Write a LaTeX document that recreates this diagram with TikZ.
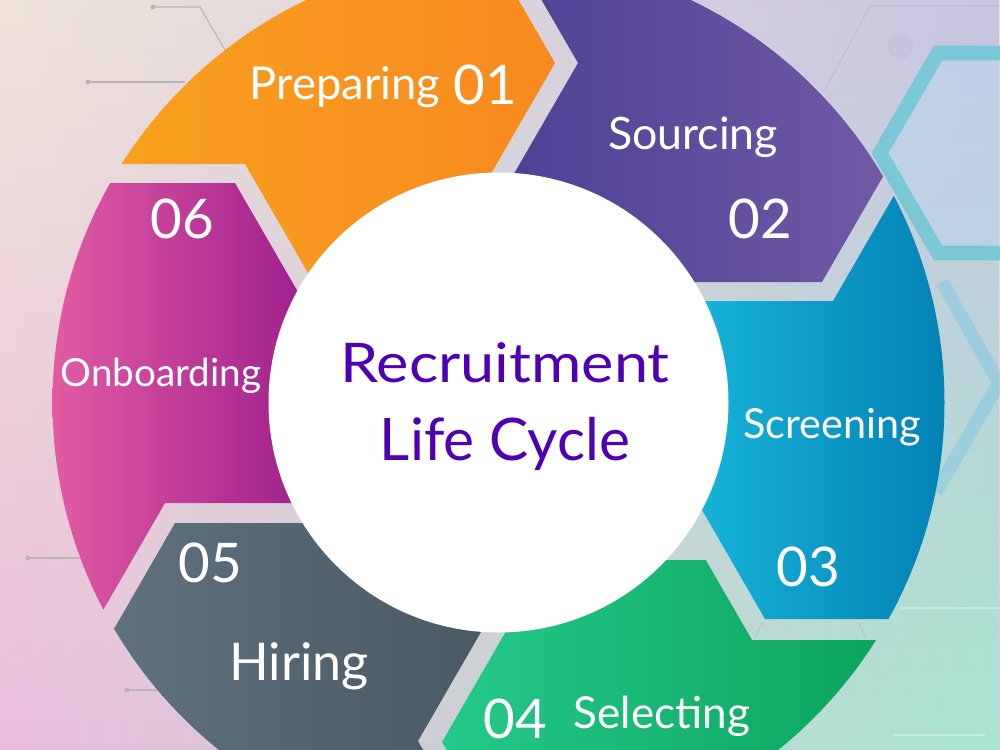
\documentclass[tikz,border=0pt]{standalone}
\usepackage{fontspec}
\setmainfont{Lato}
\newfontfamily\widefont[FakeStretch=1.12]{Lato}
\usetikzlibrary{fadings}

\definecolor{bgtl}{HTML}{EFE4D9}
\definecolor{bgml}{HTML}{E6E3E4}
\definecolor{bgbl}{HTML}{ECBEDD}
\definecolor{bgtr}{HTML}{C9C4E2}
\definecolor{bgmr}{HTML}{95D0EA}
\definecolor{bgbr}{HTML}{A8E6CE}
\definecolor{decogrey}{HTML}{B9B4B4}
\definecolor{hexteal}{HTML}{6FC7D4}
\definecolor{hexfill}{HTML}{BCD5EA}
\definecolor{hexblue}{HTML}{74C3E6}
\definecolor{orangeL}{HTML}{F9A11F}
\definecolor{orangeR}{HTML}{F6891F}
\definecolor{purpleL}{HTML}{4B3F93}
\definecolor{purpleR}{HTML}{7159A5}
\definecolor{blueL}{HTML}{17B5D9}
\definecolor{blueR}{HTML}{0381B5}
\definecolor{greenL}{HTML}{24C98B}
\definecolor{greenR}{HTML}{0CA55C}
\definecolor{greyL}{HTML}{5F707F}
\definecolor{greyR}{HTML}{475762}
\definecolor{pinkL}{HTML}{E25BA3}
\definecolor{pinkR}{HTML}{A0218E}
\definecolor{titlecol}{HTML}{5000B4}

\tikzfading[name=fadeleft, left color=transparent!100, right color=transparent!0]

\tikzset{every picture/.style={line width=0.75pt}}
\tikzset{
  seglabel/.style={text=white, anchor=base, inner sep=0.75pt, font=\fontsize{#1}{#1}\selectfont},
  segnum/.style={text=white, anchor=base, inner sep=0.75pt, font=\fontsize{41}{41}\selectfont},
  titletext/.style={text=titlecol, anchor=base, inner sep=0.75pt, font=\fontsize{#1}{#1}\selectfont},
  decoline/.style={draw=decogrey, line width=0.8pt},
}

\begin{document}
\begin{tikzpicture}[x=0.75pt,y=0.75pt,yscale=-1,xscale=1]
\clip (0,0) rectangle (1000,750);

% Background
\shade[top color=bgtl, middle color=bgml, bottom color=bgbl] (0,0) rectangle (1000,750);
\shade[top color=bgtr, middle color=bgmr, bottom color=bgbr, path fading=fadeleft] (0,0) rectangle (1000,750);

%Shape: Hexagon [teal outline]
\draw[line width=11, draw=hexteal, draw opacity=0.85, fill=hexfill, fill opacity=0.6] (1111,153) -- (1053,53) -- (938,53) -- (880,153) -- (938,253) -- (1053,253) -- cycle;
%Shape: Hexagon [light blue band]
\draw[line width=10, draw=hexblue, draw opacity=0.4, line join=miter] (942,282) -- (999,383) -- (936,492);
%Shape: Hexagon [faint outline]
\draw[decoline, draw opacity=0.5] (1000,6) -- (870,6) -- (825,90);
\fill[bgtr!85!black, opacity=0.15] (900,46) circle (13);
\draw[white, opacity=0.35, line width=1.2] (900,608) -- (1000,608);
\draw[white, opacity=0.35, line width=1.2] (893,735) -- (985,735);

%Straight Lines [deco]
\draw[decoline] (153,7) -- (200,7) -- (225,50);
\fill[decogrey] (153,7) circle (2.5);
\draw[decoline] (88,82) -- (185,82);
\fill[decogrey] (88,82) circle (2.5);
\draw[decoline] (28,558) -- (90,558);
\fill[decogrey] (28,558) circle (2.5);
\draw[decoline] (127,690) -- (165,690);
\fill[decogrey] (127,690) circle (2.5);
\draw[decoline, draw opacity=0.5] (762,622) -- (755,638);
\draw[decoline, draw opacity=0.5] (858,622) -- (866,638);

%Shape: Segment 01
\begin{scope}
\clip (498.5,402.5) circle (446);
\clip (-100,164) -- (245,164) -- (345,337) -- (455,236) -- (555,63) -- (455,-110) -- (-100,-110) -- cycle;
\shade[left color=orangeL, right color=orangeR] (120,-50) rectangle (556,340);
\end{scope}
%Shape: Segment 02
\begin{scope}
\clip (498.5,402.5) circle (446);
\clip (478,-110) -- (578,63) -- (478,236) -- (600,282) -- (822,282) -- (1000,-26) -- (1000,-110) -- cycle;
\shade[left color=purpleL, right color=purpleR] (478,-50) rectangle (884,283);
\end{scope}
%Shape: Segment 03
\begin{scope}
\clip (498.5,402.5) circle (446);
\clip (620,301) -- (833,301) -- (1011,-7) -- (1100,-7) -- (1100,619) -- (765,619) -- (665,446) -- cycle;
\shade[left color=blueL, right color=blueR] (690,170) rectangle (946,620);
\end{scope}
%Shape: Segment 04
\begin{scope}
\clip (498.5,402.5) circle (446);
\clip (652,467) -- (752,640) -- (1100,640) -- (1100,915) -- (542,915) -- (442,742) -- (542,569) -- cycle;
\shade[left color=greenL, right color=greenR] (442,560) rectangle (876,850);
\end{scope}
%Shape: Segment 05
\begin{scope}
\clip (498.5,402.5) circle (446);
\clip (390,523) -- (175,523) -- (114,629) -- (314,975) -- (518,914) -- (418,741) -- (518,568) -- cycle;
\shade[left color=greyL, right color=greyR] (114,520) rectangle (520,850);
\end{scope}
%Shape: Segment 06
\begin{scope}
\clip (498.5,402.5) circle (446);
\clip (-100,183) -- (235,183) -- (335,356) -- (380,503) -- (165,503) -- (65,676) -- (-100,676) -- cycle;
\shade[left color=pinkL, right color=pinkR] (52,180) rectangle (300,610);
\end{scope}

%Shape: Circle [hub]
\fill[white] (498.5,402.5) circle (230);

% Text Node
\node (prep) [seglabel=34] at (345,99) {Preparing};
% Text Node
\node (n01) [segnum] at (485,104) {01};
% Text Node
\node (sourc) [seglabel=33.5] at (693,149) {Sourcing};
% Text Node
\node (n02) [segnum] at (760,238) {02};
% Text Node
\node (screen) [seglabel=31] at (832,438) {Screening};
% Text Node
\node (n03) [segnum] at (808,586) {03};
% Text Node
\node (n04) [segnum] at (515,738) {04};
% Text Node
\node (select) [seglabel=33] at (662,728) {Selecting};
% Text Node
\node (n05) [segnum] at (210,582) {05};
% Text Node
\node (hire) [seglabel=39] at (299,680) {Hiring};
% Text Node
\node (n06) [segnum] at (182,238) {06};
% Text Node
\node (onb) [seglabel=29] at (161,386) {Onboarding};
% Text Node
\node (ttl1) [titletext=41, font=\widefont\fontsize{41}{41}\selectfont] at (505,382) {Recruitment};
% Text Node
\node (ttl2) [titletext=44] at (505,460) {Life Cycle};

\end{tikzpicture}
\end{document}
